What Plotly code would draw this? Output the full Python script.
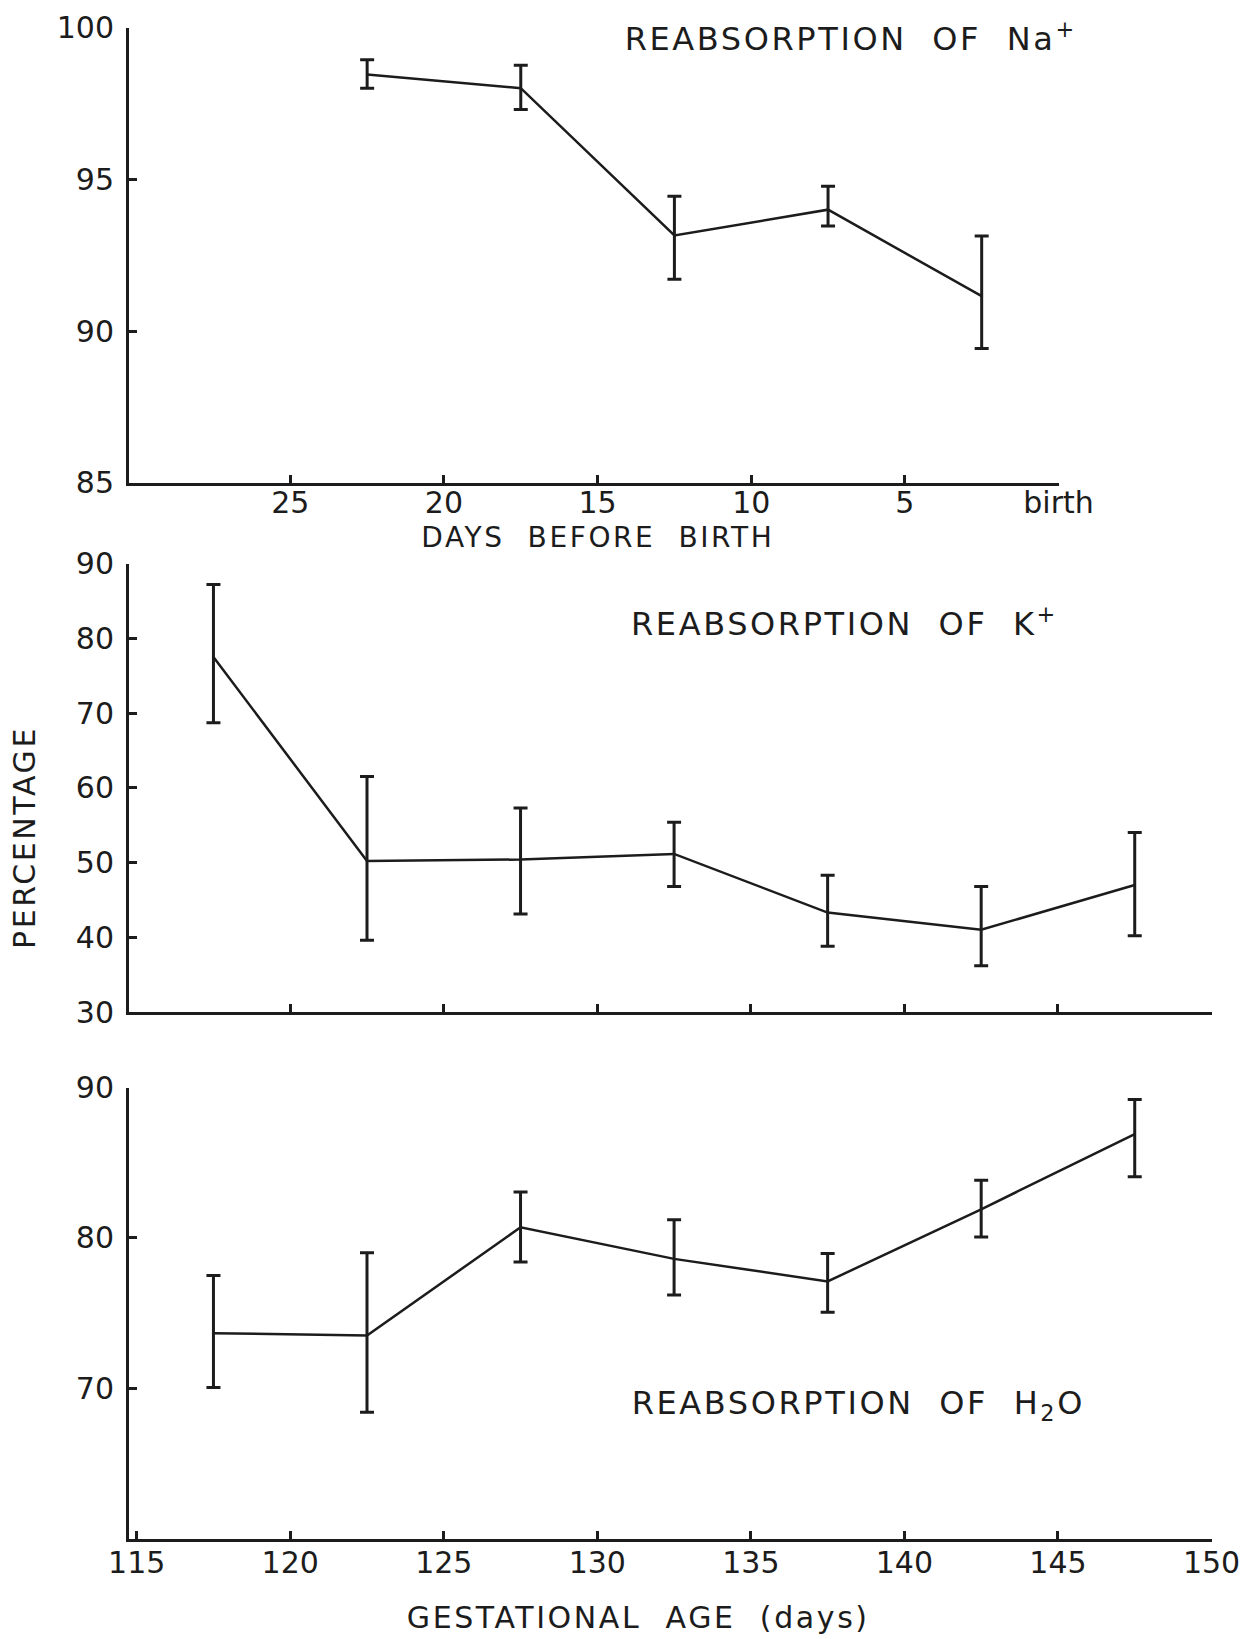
import plotly.graph_objects as go

# ---- data -------------------------------------------------------------
# Na+ reabsorption, plotted against days before birth
na_days = [22.5, 17.5, 12.5, 7.5, 2.5]
na_mean = [98.45, 98.0, 93.15, 94.0, 91.15]
na_hi = [98.94, 98.76, 94.44, 94.77, 93.13]
na_lo = [98.0, 97.30, 91.71, 93.46, 89.43]

# K+ and H2O reabsorption, plotted against gestational age (days)
gest_age = [117.5, 122.5, 127.5, 132.5, 137.5, 142.5, 147.5]
k_mean = [77.5, 50.2, 50.4, 51.15, 43.3, 41.0, 47.0]
k_hi = [87.2, 61.5, 57.3, 55.4, 48.3, 46.8, 54.0]
k_lo = [68.7, 39.6, 43.1, 46.8, 38.8, 36.2, 40.2]

h2o_mean = [73.66, 73.5, 80.7, 78.6, 77.1, 81.9, 86.9]
h2o_hi = [77.49, 79.0, 83.05, 81.2, 78.95, 83.83, 89.2]
h2o_lo = [70.05, 68.4, 78.4, 76.2, 75.05, 80.05, 84.07]

days_ticks = [25, 20, 15, 10, 5, 0]
days_text = ["25", "20", "15", "10", "5", "birth"]
gest_ticks = [115, 120, 125, 130, 135, 140, 145, 150]

# ---- page geometry ----------------------------------------------------
W, H = 1260, 1639
INK = "#1c1c1c"
FONT = "DejaVu Sans"


def px_x(p):
    return p / W


def px_y(p):
    return 1 - p / H


def series(x, mean, hi, lo, xa, ya):
    return go.Scatter(
        x=x, y=mean, mode="lines", xaxis=xa, yaxis=ya,
        line=dict(color=INK, width=2.5),
        error_y=dict(
            type="data", symmetric=False,
            array=[h - m for h, m in zip(hi, mean)],
            arrayminus=[m - l for m, l in zip(mean, lo)],
            color=INK, thickness=3, width=7,
        ),
        showlegend=False, hoverinfo="skip",
    )


fig = go.Figure()
fig.add_trace(series(na_days, na_mean, na_hi, na_lo, "x", "y"))
fig.add_trace(series(gest_age, k_mean, k_hi, k_lo, "x2", "y2"))
fig.add_trace(series(gest_age, h2o_mean, h2o_hi, h2o_lo, "x3", "y3"))

axis_common = dict(
    showgrid=False, zeroline=False, showline=True, automargin=False,
    linecolor=INK, linewidth=3,
    ticks="inside", ticklen=8, tickwidth=3, tickcolor=INK,
    tickfont=dict(family=FONT, size=30, color=INK),
)
yfmt = dict(axis_common, ticklabelstandoff=6)

left, right_full, right_top = px_x(129), px_x(1211.5), px_x(1058.5)

fig.update_layout(
    template="none",
    width=W, height=H,
    margin=dict(l=0, r=0, t=0, b=0, pad=0),
    paper_bgcolor="white", plot_bgcolor="white",
    font=dict(family=FONT, color=INK),
    xaxis=dict(axis_common, ticklabelstandoff=-9,
               domain=[left, right_top], range=[30.25, 0],
               tickvals=days_ticks, ticktext=days_text, anchor="y"),
    yaxis=dict(yfmt, domain=[px_y(482.9), px_y(27.5)], range=[85, 100],
               tickvals=[85, 90, 95, 100], anchor="x"),
    xaxis2=dict(axis_common, domain=[left, right_full], range=[114.75, 150],
                tickvals=gest_ticks[1:], showticklabels=False, anchor="y2"),
    yaxis2=dict(yfmt, domain=[px_y(1012), px_y(563.5)], range=[30, 90],
                tickvals=[30, 40, 50, 60, 70, 80, 90], anchor="x2"),
    xaxis3=dict(axis_common, ticklabelstandoff=-5,
                domain=[left, right_full], range=[114.75, 150],
                tickvals=gest_ticks, anchor="y3"),
    yaxis3=dict(yfmt, domain=[px_y(1538.5), px_y(1087.5)], range=[60, 90],
                tickvals=[70, 80, 90], anchor="x3"),
)


def label(text, x, y, size=32, angle=0):
    fig.add_annotation(
        text=text, x=px_x(x), y=px_y(y), xref="paper", yref="paper",
        xanchor="center", yanchor="middle", showarrow=False,
        textangle=angle, font=dict(family=FONT, size=size, color=INK),
    )


label("REABSORPTION  OF  Na<sup>+</sup>", 850, 37)
label("REABSORPTION  OF  K<sup>+</sup>", 845, 622)
label("REABSORPTION  OF  H<sub>2</sub>O", 858, 1405)
label("DAYS  BEFORE  BIRTH", 598, 537, size=28)
label("GESTATIONAL  AGE  (days)", 638, 1617, size=30)
label("PERCENTAGE", 24, 838, size=30, angle=-90)

# lettering on the panel titles is widely spaced
spacing_js = """
var gd = document.getElementById('{plot_id}');
gd.querySelectorAll('.annotation-text').forEach(function (t) {
    t.style.letterSpacing = '2.6px';
});
"""

fig.write_html("out.html", post_script=spacing_js)
